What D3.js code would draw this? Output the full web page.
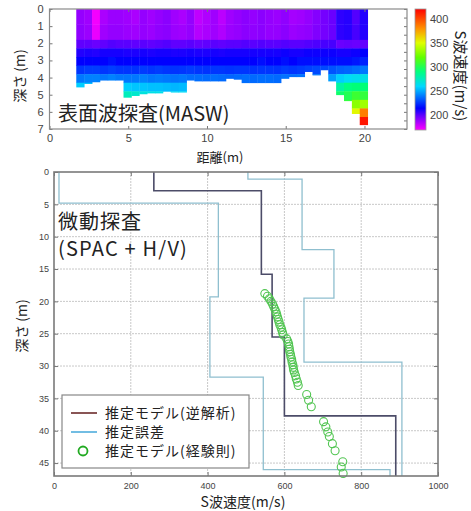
<!DOCTYPE html>
<html>
<head>
<meta charset="utf-8">
<script src="https://cdn.jsdelivr.net/npm/d3@7"></script>
<style>
  body { margin: 0; background: #fff; }
  svg text { font-family: "Noto Sans CJK JP", "Noto Sans", sans-serif; fill: #222; }
  .tick text { font-family: "Liberation Sans Narrow", "Liberation Sans", Arial, sans-serif; fill: #444; }
</style>
</head>
<body>
<svg id="chart" width="471" height="511"></svg>
<script>
// ---- top panel (MASW) data ----
// column centres (m), column bottoms (m), layer tops (m), Vs per layer (m/s)
const distCenters = [1.95, 2.45, 2.95, 3.45, 3.95, 4.45, 4.95, 5.45, 5.95, 6.45, 6.95, 7.45, 7.95, 8.45,
  8.95, 9.45, 9.95, 10.45, 10.95, 11.45, 11.95, 12.45, 12.95, 13.45, 13.95, 14.45, 14.95, 15.45,
  15.95, 16.45, 16.95, 17.45, 17.95, 18.45, 18.95, 19.45, 19.95];
const colBottom = [4.55, 4.35, 4.25, 4.15, 4.15, 4.15, 5.15, 5.05, 4.95, 4.9, 4.9, 4.8, 4.85, 4.85,
  4.15, 4.2, 4.2, 4.2, 4.2, 4.05, 4.1, 4.3, 4.3, 4.3, 4.3, 4.3, 4.05, 3.95,
  3.95, 3.65, 3.85, 3.55, 4.2, 5.0, 5.35, 6.1, 6.75];
const layerTops = [0, 0.9, 1.8, 2.3, 2.8, 3.3, 3.8, 4.3, 4.8, 5.3, 5.8, 6.3];
const vsColumns = [
  [190, 191, 200, 210, 215, 226, 240, 258],
  [188, 189, 200, 211, 216, 228, 242, 255],
  [172, 174, 198, 210, 216, 228, 242],
  [186, 188, 200, 212, 216, 226, 240],
  [189, 190, 202, 212, 217, 228, 242],
  [189, 190, 201, 212, 216, 226, 240],
  [188, 189, 201, 211, 216, 226, 240, 258, 276],
  [186, 188, 200, 211, 215, 225, 240, 256, 272],
  [190, 190, 201, 212, 216, 227, 242, 256, 268],
  [188, 189, 200, 211, 215, 226, 240, 255, 266],
  [190, 191, 201, 212, 216, 227, 241, 255, 265],
  [192, 192, 202, 212, 216, 226, 240, 254],
  [188, 189, 200, 211, 215, 225, 239, 253, 262],
  [186, 188, 200, 211, 216, 226, 240, 254, 262],
  [190, 190, 201, 212, 216, 227, 238],
  [182, 184, 199, 211, 215, 226, 238],
  [185, 186, 200, 211, 215, 225, 237],
  [188, 188, 201, 212, 216, 226, 238],
  [183, 185, 200, 211, 216, 226, 237],
  [188, 189, 201, 212, 216, 225, 236],
  [190, 190, 201, 212, 216, 226, 237],
  [192, 192, 202, 212, 216, 226, 238],
  [190, 191, 201, 212, 216, 225, 237],
  [192, 192, 202, 212, 217, 226, 238],
  [190, 190, 201, 212, 216, 226, 238],
  [189, 190, 201, 212, 216, 225, 237],
  [191, 192, 202, 213, 217, 227, 239],
  [187, 189, 201, 212, 216, 226, 238],
  [188, 190, 201, 212, 217, 227, 239],
  [190, 191, 202, 213, 218, 229],
  [193, 194, 203, 213, 218, 230, 240],
  [196, 196, 204, 213, 218, 230],
  [198, 198, 204, 213, 218, 232, 248],
  [208, 208, 198, 212, 218, 235, 258, 282, 295],
  [209, 209, 199, 212, 218, 236, 262, 290, 300, 305],
  [202, 204, 198, 213, 220, 238, 264, 292, 308, 330, 352],
  [210, 210, 199, 214, 222, 240, 266, 292, 306, 335, 385, 415]
];
const cbTicks = [200, 250, 300, 350, 400];
// colour map stops
const vsStops = [170, 185, 200, 215, 235, 260, 290, 320, 350, 380, 420];
const colorStops = ["#ff00ff", "#b000ff", "#6000ff", "#0000ff", "#0060ff", "#00d8ff",
  "#00ff80", "#60ff00", "#e0ff00", "#ff9000", "#ff0000"];

// ---- bottom panel (microtremor) data ----
const modelVs = [260, 540, 568, 600, 890];
const modelDepth = [0, 2.9, 15.8, 25.5, 37.7, 47];
const errLowVs = [13, 428, 406, 545, 875];
const errLowDepth = [0, 4.8, 19.3, 31.7, 46.0, 47];
const errHighVs = [505, 646, 729, 651, 906];
const errHighDepth = [0, 1.1, 12.0, 19.5, 29.4, 47];
const empDepth = [18.8, 19.2, 19.6, 20.0, 20.4, 20.8, 21.2, 21.6, 22.0, 22.4, 22.8, 23.2, 23.6, 24.0,
  24.4, 24.8, 25.2, 25.8, 26.2, 26.6, 27.0, 27.4, 27.8, 28.2, 28.6, 29.0, 29.4, 29.8, 30.2, 30.6,
  31.0, 31.5, 32.0, 32.5, 33.0, 34.4, 35.3, 36.3, 38.6, 39.4, 40.2, 40.9, 42.0, 43.1, 44.8, 45.6, 46.6];
const empVs = [549, 556, 561, 565, 569, 572, 575, 578, 580, 582, 584, 586, 588, 591,
  593, 595, 597, 606, 609, 611, 612, 613, 614, 616, 617, 619, 620, 622, 623, 624,
  626, 629, 631, 634, 636, 658, 663, 670, 702, 708, 713, 717, 725, 732, 752, 748, 753];
const legendLabels = ["推定モデル(逆解析)", "推定誤差", "推定モデル(経験則)"];

const svg = d3.select("#chart");
const colorScale = d3.scaleLinear().domain(vsStops).range(colorStops).clamp(true);

// ================= top panel =================
const xTop = d3.scaleLinear().domain([0, 22.7]).range([49.5, 407]);
const yTop = d3.scaleLinear().domain([0, 7]).range([9, 129]);
const colW = 0.5;

const defs = svg.append("defs");
defs.append("filter").attr("id", "soft")
  .append("feGaussianBlur").attr("stdDeviation", 0.6);

const heat = svg.append("g").attr("filter", "url(#soft)");
vsColumns.forEach((col, i) => {
  const x0 = distCenters[i] - colW / 2;
  col.forEach((v, j) => {
    const top = layerTops[j];
    const bot = Math.min(j + 1 < layerTops.length ? layerTops[j + 1] : 7, colBottom[i]);
    if (top >= bot) return;
    heat.append("rect")
      .attr("x", xTop(x0))
      .attr("y", yTop(top))
      .attr("width", xTop(x0 + colW) - xTop(x0) + 0.4)
      .attr("height", yTop(bot) - yTop(top) + 0.4)
      .attr("fill", colorScale(v));
  });
});

// axes (ticks pointing inward)
const topAxisG = svg.append("g").attr("transform", `translate(0,${yTop(7)})`)
  .call(d3.axisBottom(xTop).tickValues([0, 5, 10, 15, 20]).tickSizeInner(-3).tickSizeOuter(0).tickPadding(5));
topAxisG.selectAll("text").style("font-size", "11px");
svg.append("g").attr("transform", `translate(0,${yTop(0)})`)
  .call(d3.axisTop(xTop).tickValues([0, 5, 10, 15, 20]).tickSizeInner(-3).tickSizeOuter(0).tickFormat(""));
const topYAxisG = svg.append("g").attr("transform", `translate(${xTop(0)},0)`)
  .call(d3.axisLeft(yTop).ticks(7).tickSizeInner(-3).tickSizeOuter(0).tickPadding(6));
topYAxisG.selectAll("text").style("font-size", "11px");
svg.append("g").attr("transform", `translate(${xTop(22.7)},0)`)
  .call(d3.axisRight(yTop).ticks(14).tickSizeInner(-3).tickSizeOuter(0).tickFormat(""));
svg.selectAll(".domain").remove();
svg.selectAll(".tick line").attr("stroke", "#777");

svg.append("rect")
  .attr("x", xTop(0)).attr("y", yTop(0))
  .attr("width", xTop(22.7) - xTop(0)).attr("height", yTop(7) - yTop(0))
  .attr("fill", "none").attr("stroke", "#8a8a8a").attr("stroke-width", 1.2);

svg.append("text").attr("x", 58).attr("y", 121)
  .style("font-size", "20px").text("表面波探査(MASW)");
svg.append("text").attr("x", 220).attr("y", 162).attr("text-anchor", "middle")
  .style("font-size", "13px").text("距離(m)");
svg.append("text").attr("transform", "translate(25,76) rotate(-90)").attr("text-anchor", "middle")
  .style("font-size", "14px").text("深さ (m)");

// colour bar
const cbScale = d3.scaleLinear().domain([170, 420]).range([130, 9]);
const grad = defs.append("linearGradient").attr("id", "cbGrad")
  .attr("x1", 0).attr("y1", 1).attr("x2", 0).attr("y2", 0);
vsStops.forEach((v, i) => {
  grad.append("stop").attr("offset", (v - 170) / 250).attr("stop-color", colorStops[i]);
});
svg.append("rect").attr("x", 415).attr("y", cbScale(420))
  .attr("width", 11).attr("height", cbScale(170) - cbScale(420))
  .attr("fill", "url(#cbGrad)").attr("stroke", "#999").attr("stroke-width", 0.8);
svg.append("g").selectAll("text").data(cbTicks).join("text")
  .attr("x", 430).attr("y", d => cbScale(d)).attr("dy", "0.35em")
  .style("font-family", "'Liberation Sans Narrow','Liberation Sans',Arial,sans-serif")
  .style("font-size", "11px").style("fill", "#444")
  .text(d => d);
svg.append("text").attr("transform", "translate(455,76) rotate(90)").attr("text-anchor", "middle")
  .style("font-size", "15px").text("S波速度(m/s)");

// ================= bottom panel =================
const xBot = d3.scaleLinear().domain([0, 1000]).range([54, 438]);
const yBot = d3.scaleLinear().domain([0, 47]).range([172, 476]);
const xTicksBot = [0, 200, 400, 600, 800, 1000];
const yTicksBot = [0, 5, 10, 15, 20, 25, 30, 35, 40, 45];

// grid
const grid = svg.append("g");
grid.selectAll(".vg").data([200, 400, 600, 800]).join("line")
  .attr("x1", d => xBot(d)).attr("x2", d => xBot(d))
  .attr("y1", yBot(0)).attr("y2", yBot(47))
  .attr("stroke", "#c8c8c8").attr("stroke-dasharray", "2,1");
grid.selectAll(".hg").data(yTicksBot.slice(1)).join("line")
  .attr("x1", xBot(0)).attr("x2", xBot(1000))
  .attr("y1", d => yBot(d)).attr("y2", d => yBot(d))
  .attr("stroke", "#c8c8c8").attr("stroke-dasharray", "2,1");

const botX = svg.append("g").attr("transform", `translate(0,${yBot(47)})`)
  .call(d3.axisBottom(xBot).tickValues(xTicksBot).tickFormat(d3.format("d"))
    .tickSizeInner(-4).tickSizeOuter(0).tickPadding(7));
botX.selectAll("text").style("font-size", "9px");
svg.append("g").attr("transform", `translate(0,${yBot(0)})`)
  .call(d3.axisTop(xBot).tickValues(xTicksBot).tickSizeInner(-4).tickSizeOuter(0).tickFormat(""));
const botY = svg.append("g").attr("transform", `translate(${xBot(0)},0)`)
  .call(d3.axisLeft(yBot).tickValues(yTicksBot).tickSizeInner(-4).tickSizeOuter(0).tickPadding(5));
botY.selectAll("text").style("font-size", "9px");
svg.append("g").attr("transform", `translate(${xBot(1000)},0)`)
  .call(d3.axisRight(yBot).tickValues(yTicksBot).tickSizeInner(-4).tickSizeOuter(0).tickFormat(""));
svg.selectAll(".domain").remove();
svg.selectAll(".tick line").attr("stroke", "#777");

// step profile helper
function stepPoints(vs, depths) {
  const pts = [];
  vs.forEach((v, i) => {
    pts.push([v, depths[i]]);
    pts.push([v, depths[i + 1]]);
  });
  return pts;
}
const line = d3.line().x(d => xBot(d[0])).y(d => yBot(d[1]));

svg.append("path").datum(stepPoints(errLowVs, errLowDepth)).attr("d", line)
  .attr("fill", "none").attr("stroke", "#8fbfcf").attr("stroke-width", 1.3);
svg.append("path").datum(stepPoints(errHighVs, errHighDepth)).attr("d", line)
  .attr("fill", "none").attr("stroke", "#8fbfcf").attr("stroke-width", 1.3);
svg.append("path").datum(stepPoints(modelVs, modelDepth)).attr("d", line)
  .attr("fill", "none").attr("stroke", "#4c4c68").attr("stroke-width", 1.6);

svg.append("g").selectAll("circle").data(empDepth).join("circle")
  .attr("cx", (d, i) => xBot(empVs[i]))
  .attr("cy", d => yBot(d))
  .attr("r", 4)
  .attr("fill", "none")
  .attr("stroke", "#52c552")
  .attr("stroke-width", 1.1);

// frame
svg.append("rect")
  .attr("x", xBot(0)).attr("y", yBot(0))
  .attr("width", xBot(1000) - xBot(0)).attr("height", yBot(47) - yBot(0))
  .attr("fill", "none").attr("stroke", "#7a7a7a").attr("stroke-width", 1.6);

svg.append("text").attr("x", 58).attr("y", 229).style("font-size", "20px")
  .style("letter-spacing", "1px").text("微動探査");
svg.append("text").attr("x", 58).attr("y", 256).style("font-size", "20px")
  .style("letter-spacing", "1.2px").text("(SPAC + H/V)");
svg.append("text").attr("x", 243).attr("y", 507).attr("text-anchor", "middle")
  .style("font-size", "14px").text("S波速度(m/s)");
svg.append("text").attr("transform", "translate(27,326) rotate(-90)").attr("text-anchor", "middle")
  .style("font-size", "14px").text("深さ (m)");

// legend
const lg = svg.append("g");
lg.append("rect").attr("x", 62).attr("y", 395).attr("width", 187).attr("height", 73)
  .attr("fill", "#fff").attr("stroke", "#888").attr("stroke-width", 1.2);
const rowY = [413, 432, 451];
lg.append("line").attr("x1", 71).attr("x2", 97).attr("y1", rowY[0]).attr("y2", rowY[0])
  .attr("stroke", "#6b2a2a").attr("stroke-width", 1.6);
lg.append("line").attr("x1", 71).attr("x2", 97).attr("y1", rowY[1]).attr("y2", rowY[1])
  .attr("stroke", "#62b6e0").attr("stroke-width", 1.8);
lg.append("circle").attr("cx", 83).attr("cy", rowY[2]).attr("r", 4.5)
  .attr("fill", "none").attr("stroke", "#22aa22").attr("stroke-width", 1.8);
lg.selectAll(".lt").data(legendLabels).join("text")
  .attr("x", 105).attr("y", (d, i) => rowY[i]).attr("dy", "0.36em")
  .style("font-size", "14px").style("letter-spacing", "1px").text(d => d);
</script>
</body>
</html>
